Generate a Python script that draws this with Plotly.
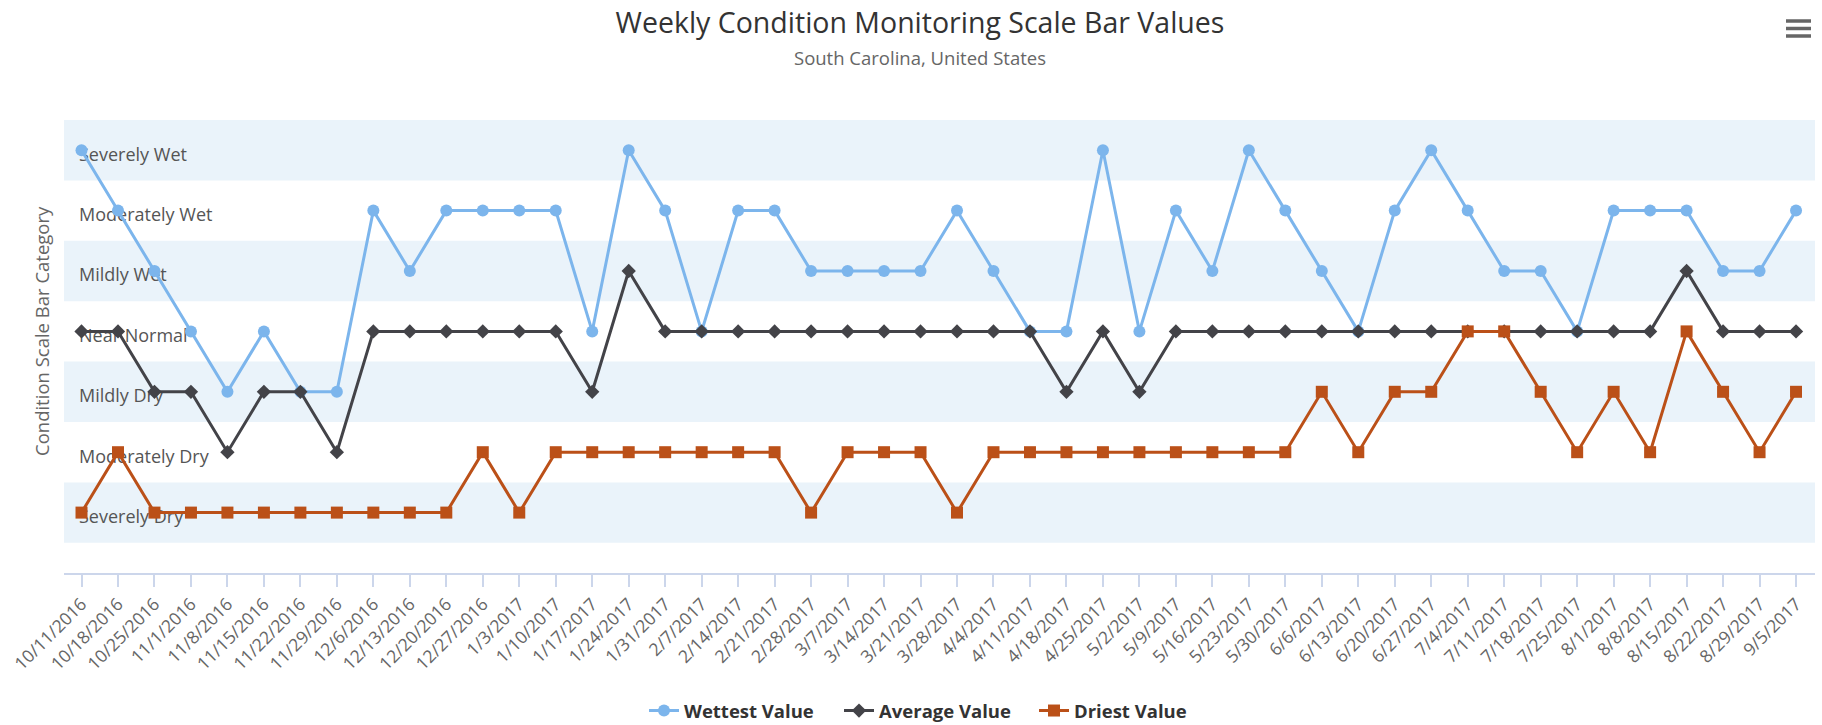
import plotly.graph_objects as go

dates = ["10/11/2016", "10/18/2016", "10/25/2016", "11/1/2016", "11/8/2016", "11/15/2016",
         "11/22/2016", "11/29/2016", "12/6/2016", "12/13/2016", "12/20/2016", "12/27/2016",
         "1/3/2017", "1/10/2017", "1/17/2017", "1/24/2017", "1/31/2017", "2/7/2017",
         "2/14/2017", "2/21/2017", "2/28/2017", "3/7/2017", "3/14/2017", "3/21/2017",
         "3/28/2017", "4/4/2017", "4/11/2017", "4/18/2017", "4/25/2017", "5/2/2017",
         "5/9/2017", "5/16/2017", "5/23/2017", "5/30/2017", "6/6/2017", "6/13/2017",
         "6/20/2017", "6/27/2017", "7/4/2017", "7/11/2017", "7/18/2017", "7/25/2017",
         "8/1/2017", "8/8/2017", "8/15/2017", "8/22/2017", "8/29/2017", "9/5/2017"]

category_values = [-3, -2, -1, 0, 1, 2, 3]
category_labels = ["Severely Dry", "Moderately Dry", "Mildly Dry", "Near Normal",
                   "Mildly Wet", "Moderately Wet", "Severely Wet"]
banded_values = [-3, -1, 1, 3]

wettest = [3, 2, 1, 0, -1, 0, -1, -1, 2, 1, 2, 2,
           2, 2, 0, 3, 2, 0, 2, 2, 1, 1, 1, 1,
           2, 1, 0, 0, 3, 0, 2, 1, 3, 2, 1, 0,
           2, 3, 2, 1, 1, 0, 2, 2, 2, 1, 1, 2]
average = [0, 0, -1, -1, -2, -1, -1, -2, 0, 0, 0, 0,
           0, 0, -1, 1, 0, 0, 0, 0, 0, 0, 0, 0,
           0, 0, 0, -1, 0, -1, 0, 0, 0, 0, 0, 0,
           0, 0, 0, 0, 0, 0, 0, 0, 1, 0, 0, 0]
driest = [-3, -2, -3, -3, -3, -3, -3, -3, -3, -3, -3, -2,
          -3, -2, -2, -2, -2, -2, -2, -2, -3, -2, -2, -2,
          -3, -2, -2, -2, -2, -2, -2, -2, -2, -2, -1, -2,
          -1, -1, 0, 0, -1, -2, -1, -2, 0, -1, -2, -1]

FONT = "Open Sans"
W, H = 1822, 725
ML, MR, MT, MB = 64, 7, 120, 152

fig = go.Figure()
fig.add_trace(go.Scatter(x=dates, y=wettest, name="Wettest Value", mode="lines+markers",
                         line=dict(color="#7cb5ec", width=3),
                         marker=dict(symbol="circle", size=12, color="#7cb5ec")))
fig.add_trace(go.Scatter(x=dates, y=average, name="Average Value", mode="lines+markers",
                         line=dict(color="#434348", width=3),
                         marker=dict(symbol="diamond", size=11, color="#434348")))
fig.add_trace(go.Scatter(x=dates, y=driest, name="Driest Value", mode="lines+markers",
                         line=dict(color="#bb5018", width=3),
                         marker=dict(symbol="square", size=12, color="#bb5018")))

shapes = []
for v in banded_values:
    shapes.append(dict(type="rect", xref="paper", yref="y", x0=0, x1=1,
                       y0=v - 0.5, y1=v + 0.5, fillcolor="rgb(234,243,250)",
                       line=dict(width=0), layer="below"))

pw = W - ML - MR
ph = H - MT - MB


def px_x(p):
    return (p - ML) / pw


def px_y(p):
    return (H - MB - p) / ph


# hamburger menu icon
for yy in (21, 28.5, 36):
    shapes.append(dict(type="line", xref="paper", yref="paper",
                       x0=px_x(1786), x1=px_x(1811), y0=px_y(yy), y1=px_y(yy),
                       line=dict(color="#666666", width=3.5)))

fig.update_layout(
    width=W, height=H,
    margin=dict(l=ML, r=MR, t=MT, b=MB),
    paper_bgcolor="white", plot_bgcolor="white",
    font=dict(family=FONT, color="#666666"),
    title=dict(text="Weekly Condition Monitoring Scale Bar Values",
               x=920 / W, xref="container", xanchor="center",
               y=1 - 23 / H, yref="container", yanchor="middle",
               font=dict(family=FONT, size=28.5, color="#333333")),
    shapes=shapes,
    annotations=[
        dict(text="South Carolina, United States", xref="paper", yref="paper",
             x=px_x(920), y=px_y(58), xanchor="center", yanchor="middle",
             showarrow=False, font=dict(family=FONT, size=18.5, color="#666666")),
        dict(text="Condition Scale Bar Category", xref="paper", yref="paper",
             x=px_x(41), y=px_y(331), xanchor="center", yanchor="middle",
             textangle=-90, showarrow=False,
             font=dict(family=FONT, size=18.5, color="#666666")),
    ],
    showlegend=True,
    legend=dict(orientation="h", xref="container", yref="container",
                x=0.514, xanchor="center", y=1 - 692 / H, yanchor="top",
                font=dict(family=FONT, size=18.5, color="#333333", weight="bold"),
                itemwidth=30, entrywidth=150, bgcolor="rgba(0,0,0,0)"),
    xaxis=dict(type="category", range=[-0.48, 47.52], showgrid=False,
               showline=True, linecolor="#ccd6eb", linewidth=2,
               ticks="outside", ticklen=12, tickcolor="#ccd6eb", tickwidth=1.5,
               tickangle=-45, ticklabeloverflow="allow",
               tickfont=dict(family=FONT, size=17.5, color="#666666"),
               zeroline=False, fixedrange=True),
    yaxis=dict(range=[-4, 3.5], tickmode="array", tickvals=category_values,
               ticktext=category_labels, ticklabelposition="inside",
               ticklabelstandoff=12, ticklabelshift=4, ticks="",
               ticklabeloverflow="allow",
               showgrid=False, zeroline=False, showline=False, layer="below traces",
               tickfont=dict(family=FONT, size=18, color="#555555"),
               fixedrange=True),
)

fig.write_html("out.html", config={"displayModeBar": False},
               post_script="document.body.style.margin='0';")
